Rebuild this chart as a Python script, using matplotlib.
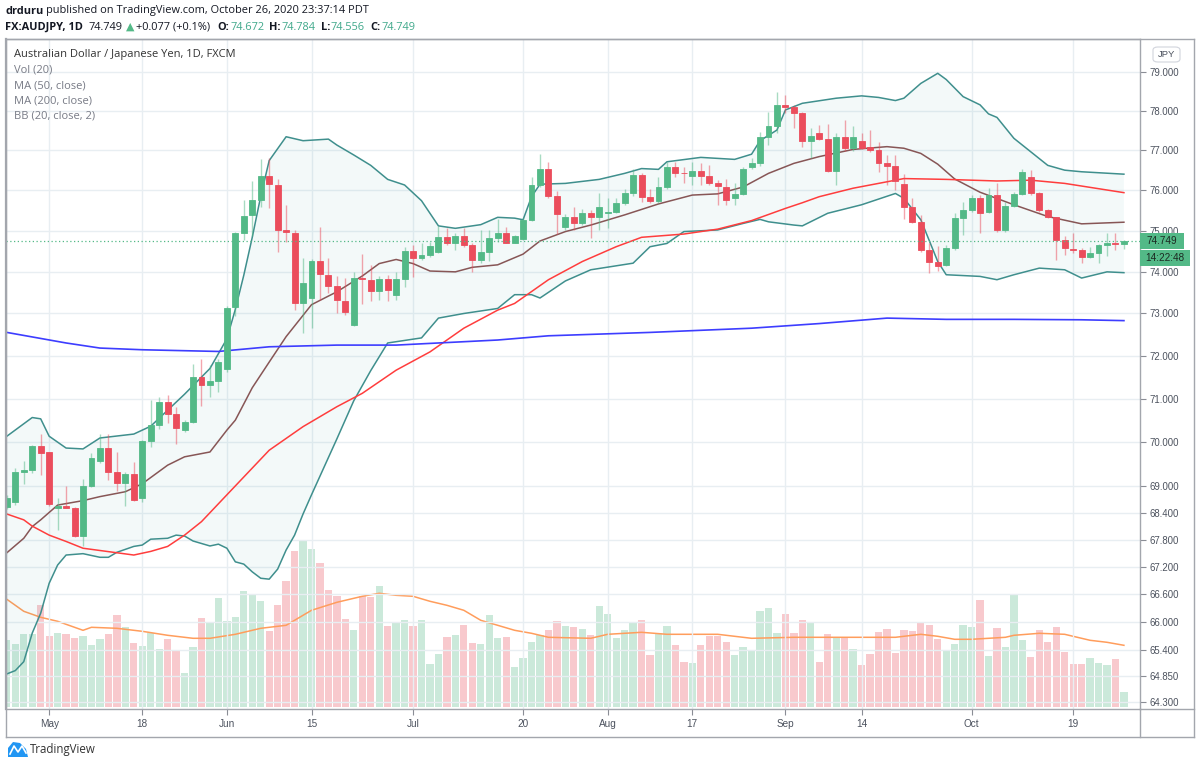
import numpy as np
import pandas as pd
import matplotlib
matplotlib.use("Agg")
import matplotlib.pyplot as plt
from matplotlib.lines import Line2D
from matplotlib.patches import Rectangle, FancyBboxPatch, Polygon
from matplotlib.ticker import FixedLocator, NullLocator, FuncFormatter

# ─── data ────────────────────────────────────────────────────────────────
dates = pd.bdate_range("2020-04-24", "2020-10-27")

opens = [68.53, 68.63, 69.32, 69.36, 69.90, 69.76, 68.50, 68.55, 68.51, 67.88,
         69.00, 69.57, 69.86, 69.32, 69.07, 69.27, 68.72, 70.02, 70.39, 70.92,
         70.64, 70.27, 70.46, 71.51, 71.31, 71.41, 71.68, 73.15, 74.94, 75.38,
         75.76, 76.36, 76.13, 75.02, 74.95, 73.26, 73.37, 74.27, 73.93, 73.66,
         73.31, 72.73, 73.86, 73.81, 73.55, 73.83, 73.45, 73.83, 74.51, 74.33,
         74.40, 74.48, 74.84, 74.71, 74.87, 74.65, 74.29, 74.47, 74.82, 74.95,
         74.71, 74.79, 75.27, 76.13, 76.52, 75.86, 75.09, 75.33, 75.18, 75.43,
         75.35, 75.43, 75.47, 75.69, 75.94, 76.38, 75.84, 75.74, 76.07, 76.57,
         76.44, 76.36, 76.48, 76.36, 76.17, 76.08, 75.80, 75.91, 76.57, 76.67,
         77.34, 77.60, 78.15, 78.09, 77.93, 77.24, 77.44, 77.28, 76.49, 77.33,
         77.05, 77.22, 77.07, 77.00, 76.67, 76.61, 76.16, 75.59, 75.22, 74.52,
         74.25, 74.17, 74.57, 75.31, 75.51, 75.80, 75.47, 75.88, 75.02, 75.61,
         75.91, 76.34, 75.92, 75.51, 75.33, 74.78, 74.55, 74.52, 74.36, 74.45,
         74.65, 74.71, 74.672]
highs = [68.80, 69.41, 69.56, 69.92, 70.18, 69.78, 68.73, 69.00, 68.53, 69.16,
         69.74, 70.18, 70.18, 69.77, 69.32, 69.55, 70.05, 70.96, 71.04, 71.08,
         70.81, 70.50, 71.80, 71.93, 71.78, 71.92, 73.18, 74.98, 75.77, 76.23,
         76.77, 76.80, 76.27, 75.63, 75.02, 74.33, 74.30, 75.10, 74.33, 73.90,
         73.85, 74.00, 74.44, 74.17, 73.90, 73.93, 74.00, 74.61, 74.65, 74.71,
         74.73, 75.12, 75.06, 74.94, 75.06, 74.69, 75.02, 75.02, 75.28, 75.10,
         74.90, 75.31, 76.34, 76.90, 76.71, 75.98, 75.41, 75.59, 75.53, 75.51,
         75.94, 75.80, 75.80, 76.02, 76.52, 76.42, 76.02, 76.34, 76.71, 76.71,
         76.57, 76.71, 76.69, 76.62, 76.25, 76.29, 76.17, 76.57, 76.80, 77.47,
         77.97, 78.49, 78.40, 78.15, 77.97, 77.55, 77.63, 77.66, 77.44, 77.77,
         77.60, 77.43, 77.51, 77.21, 76.88, 76.88, 76.40, 75.80, 75.39, 74.70,
         74.63, 74.65, 75.43, 75.72, 75.88, 75.88, 76.05, 76.17, 75.72, 75.96,
         76.54, 76.51, 75.96, 75.53, 75.35, 74.86, 74.95, 74.57, 74.61, 74.67,
         74.95, 74.95, 74.784]
lows = [68.48, 68.57, 69.05, 69.29, 69.25, 68.55, 68.01, 68.50, 67.85, 67.65,
        68.98, 69.52, 69.14, 68.89, 68.55, 68.66, 68.65, 69.89, 70.29, 70.43,
        69.95, 70.22, 70.43, 70.82, 71.04, 71.14, 71.62, 72.94, 74.78, 74.87,
        75.59, 75.55, 74.49, 74.73, 73.08, 72.53, 72.65, 73.33, 73.49, 73.00,
        72.96, 72.70, 73.23, 73.31, 73.33, 73.31, 73.33, 73.63, 73.88, 74.29,
        74.36, 74.45, 74.65, 74.53, 74.61, 74.00, 74.21, 74.27, 74.73, 74.69,
        74.69, 74.78, 75.23, 76.09, 75.80, 74.92, 75.02, 75.02, 75.14, 74.82,
        75.02, 75.06, 75.43, 75.63, 75.86, 75.72, 75.69, 75.69, 76.02, 76.32,
        76.17, 76.13, 76.13, 76.13, 75.64, 75.64, 75.64, 75.88, 76.54, 76.61,
        77.13, 77.43, 77.93, 77.55, 77.09, 76.80, 77.26, 76.46, 76.13, 76.99,
        76.99, 77.02, 76.96, 76.46, 76.13, 76.00, 75.28, 75.18, 74.49, 73.98,
        74.03, 74.13, 74.53, 74.90, 75.47, 74.94, 75.43, 74.98, 74.98, 75.59,
        75.88, 75.88, 75.47, 75.31, 74.29, 74.41, 74.45, 74.21, 74.33, 74.21,
        74.38, 74.53, 74.556]
closes = [68.73, 69.32, 69.36, 69.90, 69.75, 68.60, 68.55, 68.51, 67.88, 69.00,
          69.64, 69.86, 69.32, 69.07, 69.27, 68.69, 70.02, 70.39, 70.92, 70.64,
          70.32, 70.46, 71.51, 71.31, 71.41, 71.86, 73.13, 74.94, 75.36, 75.76,
          76.36, 76.16, 75.02, 74.98, 73.26, 73.74, 74.27, 73.95, 73.66, 73.32,
          73.04, 73.86, 73.82, 73.55, 73.83, 73.57, 73.83, 74.51, 74.33, 74.40,
          74.63, 74.84, 74.71, 74.87, 74.65, 74.29, 74.47, 74.82, 74.95, 74.71,
          74.86, 75.27, 76.13, 76.52, 75.86, 75.41, 75.33, 75.18, 75.43, 75.35,
          75.58, 75.47, 75.69, 75.94, 76.38, 75.84, 75.74, 76.07, 76.57, 76.44,
          76.42, 76.48, 76.36, 76.17, 76.10, 75.76, 75.91, 76.54, 76.67, 77.34,
          77.61, 78.15, 78.10, 77.93, 77.24, 77.36, 77.28, 76.49, 77.33, 77.05,
          77.33, 77.05, 77.00, 76.67, 76.61, 76.24, 75.59, 75.22, 74.52, 74.25,
          74.15, 74.57, 75.31, 75.51, 75.80, 75.43, 75.88, 75.02, 75.61, 75.91,
          76.46, 75.92, 75.51, 75.33, 74.78, 74.57, 74.52, 74.36, 74.45, 74.65,
          74.71, 74.68, 74.749]
volume = [67, 63, 73, 73, 102, 71, 74, 73, 69, 71, 62, 68, 73, 92, 80, 64, 61,
          74, 58, 68, 56, 34, 60, 89, 85, 109, 86, 90, 116, 113, 106, 76, 102,
          126, 156, 166, 158, 144, 117, 111, 88, 77, 111, 110, 121, 81, 85, 87,
          81, 87, 43, 53, 70, 72, 82, 64, 63, 92, 69, 70, 40, 49, 65, 72, 77,
          86, 81, 80, 78, 72, 101, 93, 69, 77, 85, 87, 52, 74, 81, 62, 45, 44,
          62, 71, 71, 65, 52, 60, 56, 96, 99, 74, 93, 74, 87, 84, 45, 73, 70,
          70, 58, 42, 53, 75, 78, 54, 77, 76, 84, 82, 68, 57, 63, 82, 80, 107,
          51, 79, 60, 112, 67, 50, 77, 65, 80, 55, 43, 43, 49, 44, 42, 48, 15]

# indicator lines, read at selected bars: (bar number, value)
bb_upper_bar = [0, 3, 4, 5, 7, 9, 11, 15, 17, 21, 24, 26, 27, 28, 29, 30, 31, 33,
                35, 38, 39, 41, 43, 45, 47, 49, 51, 53, 56, 58, 60, 61, 62, 63,
                66, 70, 73, 75, 77, 78, 82, 86, 88, 89, 91, 92, 94, 98, 101, 103,
                105, 106, 108, 110, 111, 113, 115, 116, 117, 119, 123, 125, 127, 132]
bb_upper = [70.13, 70.56, 70.53, 70.13, 69.86, 69.84, 70.09, 70.18, 70.36, 71.10,
            71.70, 72.40, 73.10, 73.92, 74.84, 75.85, 76.74, 77.34, 77.24, 77.28,
            77.13, 76.88, 76.62, 76.27, 76.13, 75.74, 75.12, 75.06, 75.15, 75.33,
            75.31, 75.27, 75.84, 76.15, 76.17, 76.27, 76.42, 76.54, 76.52, 76.71,
            76.82, 76.77, 76.90, 77.24, 77.51, 78.02, 78.19, 78.32, 78.38, 78.34,
            78.26, 78.32, 78.70, 78.96, 78.80, 78.36, 78.15, 77.92, 77.83, 77.30,
            76.62, 76.50, 76.46, 76.40]
bb_mid_bar = [0, 2, 3, 4, 6, 9, 11, 14, 16, 19, 21, 24, 26, 27, 29, 31, 33, 36,
              39, 42, 44, 46, 48, 50, 53, 55, 58, 61, 63, 66, 69, 73, 77, 81, 84,
              87, 90, 93, 96, 100, 104, 106, 108, 110, 112, 115, 119, 123, 127, 132]
bb_mid = [67.51, 67.83, 68.09, 68.24, 68.57, 68.67, 68.76, 68.87, 69.05, 69.47,
          69.66, 69.77, 70.27, 70.50, 71.25, 71.85, 72.45, 73.21, 73.52, 73.90,
          74.20, 74.30, 74.20, 74.02, 74.00, 74.11, 74.17, 74.43, 74.75, 74.98,
          75.14, 75.39, 75.66, 75.88, 75.91, 76.08, 76.42, 76.67, 76.84, 77.02,
          77.09, 77.05, 76.92, 76.65, 76.28, 75.95, 75.64, 75.35, 75.17, 75.21]
bb_lower_bar = [0, 1, 2, 3, 4, 5, 6, 7, 9, 11, 12, 13, 15, 16, 17, 19, 20, 21, 22,
                24, 25, 26, 27, 28, 29, 30, 31, 32, 33, 34, 35, 36, 39, 41, 43, 45,
                47, 49, 51, 54, 58, 60, 62, 63, 66, 69, 74, 76, 78, 80, 84, 87, 89,
                90, 93, 94, 97, 101, 105, 106, 108, 110, 111, 115, 117, 119, 122,
                125, 127, 130, 132]
bb_lower = [64.89, 64.96, 65.15, 65.76, 66.19, 66.84, 67.24, 67.46, 67.49, 67.41,
            67.41, 67.52, 67.65, 67.68, 67.81, 67.83, 67.90, 67.88, 67.77, 67.66,
            67.70, 67.61, 67.31, 67.26, 67.09, 66.95, 66.93, 67.15, 67.57, 67.90,
            68.37, 68.80, 70.07, 70.95, 71.65, 72.30, 72.36, 72.42, 72.89, 73.00,
            73.12, 73.45, 73.45, 73.37, 73.78, 74.05, 74.21, 74.61, 74.69, 74.98,
            75.02, 75.18, 75.28, 75.22, 75.14, 75.12, 75.43, 75.64, 75.92, 75.80,
            75.27, 74.25, 73.93, 73.89, 73.81, 73.93, 74.09, 74.05, 73.85, 74.00,
            73.98]
ma50_bar = [0, 2, 3, 5, 7, 9, 11, 13, 15, 17, 19, 21, 23, 26, 31, 35, 39, 42, 46,
            50, 54, 58, 60, 64, 68, 72, 75, 80, 84, 88, 92, 94, 96, 100, 104, 106,
            111, 117, 121, 125, 132]
ma50 = [68.37, 68.24, 68.10, 67.90, 67.76, 67.61, 67.56, 67.51, 67.46, 67.54,
        67.65, 67.90, 68.20, 68.80, 69.81, 70.35, 70.81, 71.12, 71.66, 72.09,
        72.65, 73.08, 73.24, 73.81, 74.25, 74.61, 74.84, 74.92, 75.04, 75.25,
        75.55, 75.69, 75.84, 76.05, 76.21, 76.29, 76.27, 76.23, 76.25, 76.17,
        75.94]
ma200_bar = [0, 7, 11, 16, 25, 31, 39, 46, 52, 58, 64, 76, 88, 96, 104, 111, 119,
             127, 132]
ma200 = [72.55, 72.30, 72.18, 72.14, 72.10, 72.21, 72.25, 72.25, 72.31, 72.37,
         72.47, 72.55, 72.65, 72.76, 72.89, 72.86, 72.86, 72.85, 72.83]
vol_ma_bar = [0, 2, 4, 6, 9, 10, 13, 16, 19, 22, 24, 27, 30, 33, 34, 36, 39, 42,
              44, 46, 48, 50, 52, 54, 56, 58, 60, 62, 64, 69, 71, 75, 78, 84, 88,
              93, 99, 105, 108, 110, 112, 114, 118, 119, 122, 125, 128, 130, 132]
vol_ma = [108, 96, 90, 86, 77, 80, 79, 76, 72, 69, 69, 73, 79, 82, 87, 97, 105,
          111, 114, 112, 111, 106, 102, 97, 87, 82, 77, 74, 70, 69, 73, 75, 73,
          73, 69, 70, 70, 70, 73, 71, 68, 68, 70, 72, 74, 73, 67, 65, 62]

price_ticks = [64.3, 64.85, 65.4, 66.0, 66.6, 67.2, 67.8, 68.4, 69, 70, 71, 72,
               73, 74, 75, 76, 77, 78, 79]
tick_dates = ["2020-05-01", "2020-05-18", "2020-06-01", "2020-06-15", "2020-07-01",
              "2020-07-20", "2020-08-03", "2020-08-17", "2020-09-01", "2020-09-14",
              "2020-10-01", "2020-10-19"]
tick_labels = ["May", "18", "Jun", "15", "Jul", "20", "Aug", "17", "Sep", "14",
               "Oct", "19"]
last_price = 74.749

# ─── colours ─────────────────────────────────────────────────────────────
UP, DOWN = "#53b987", "#eb4d5c"
GRID = "#e8eef2"
FRAME = "#a3a6ad"
TXT = "#4c525e"
INK = "#131722"
VAL = "#3fa88a"

W, H = 1200, 766
fig = plt.figure(figsize=(W / 100, H / 100), dpi=100)
renderer = fig.canvas.get_renderer()


def fx(x):
    return x / W


def fy(y):
    return 1 - y / H


rect = [fx(6), fy(709), (1140 - 6) / W, (709 - 39) / H]
ax_vol = fig.add_axes(rect)
ax = fig.add_axes(rect, facecolor="none")

n = len(dates)
x = np.arange(n)
o, h, l, c = map(np.array, (opens, highs, lows, closes))
up = c >= o
xmin, xmax = -0.1, 133.9

# volume pane (behind the price pane)
vol_cols = [(0.325, 0.725, 0.53, 0.30) if u else (0.92, 0.30, 0.36, 0.30) for u in up]
ax_vol.bar(x, volume, width=0.86, color=vol_cols, linewidth=0)
ax_vol.plot(vol_ma_bar, vol_ma, color="#ff9d5c", lw=1.1)
ax_vol.set_xlim(xmin, xmax)
ax_vol.set_ylim(-1.7, 668.3)
ax_vol.axis("off")

# price pane
ax.set_yscale("log")
ax.set_xlim(xmin, xmax)
ax.set_ylim(64.15, 79.85)

ax.fill(np.r_[bb_upper_bar, bb_lower_bar[::-1]], np.r_[bb_upper, bb_lower[::-1]],
        color="#2a9d9d", alpha=0.055, lw=0, zorder=1)
ax.plot(bb_upper_bar, bb_upper, color="#3f8f8d", lw=1.1, zorder=2)
ax.plot(bb_lower_bar, bb_lower, color="#3f8f8d", lw=1.1, zorder=2)
ax.plot(bb_mid_bar, bb_mid, color="#875656", lw=1.1, zorder=2)
ax.plot(ma50_bar, ma50, color="#ff3d3d", lw=1.1, zorder=2)
ax.plot(ma200_bar, ma200, color="#3d3dff", lw=1.2, zorder=2)

cols = np.where(up, UP, DOWN)
ax.vlines(x, l, h, colors=cols, lw=1.0, alpha=0.5, zorder=3)
ax.bar(x, np.abs(c - o), bottom=np.minimum(o, c), width=0.7, color=cols,
       edgecolor=cols, linewidth=0.6, zorder=4)

ax.axhline(last_price, color=UP, lw=0.9, ls=(0, (1, 2)), zorder=5)

# axes, ticks and grid
ax.yaxis.tick_right()
ax.yaxis.set_major_locator(FixedLocator(price_ticks))
ax.yaxis.set_minor_locator(NullLocator())
ax.yaxis.set_major_formatter(FuncFormatter(lambda v, p: f"{v:.3f}"))
tick_pos = [dates.get_loc(pd.Timestamp(d)) for d in tick_dates]
ax.set_xticks(tick_pos)
ax.set_xticklabels(tick_labels)
ax.tick_params(axis="y", length=4, width=0.8, color="#8a8d95", labelsize=6.9,
               labelcolor=TXT, pad=3)
ax.tick_params(axis="x", length=4, width=0.8, color="#8a8d95", labelsize=7.2,
               labelcolor=TXT, pad=3)
for lab in ax.get_xticklabels() + ax.get_yticklabels():
    lab.set_fontfamily("Liberation Sans")
ax.grid(True, color=GRID, lw=1.0, zorder=0)
ax.set_axisbelow(True)
for s in ax.spines.values():
    s.set_color(FRAME)
    s.set_linewidth(1.0)
ax.spines["left"].set_linewidth(1.6)

# outer frame of the chart widget
for (x0, y0, x1, y1) in [(6, 38.5, 1194, 38.5), (1194, 38.5, 1194, 737),
                         (6, 737, 1194, 737), (6, 38.5, 6, 737), (1140, 709, 1140, 737),
                         (1140, 709, 1194, 709)]:
    fig.add_artist(Line2D([fx(x0), fx(x1)], [fy(y0), fy(y1)], color=FRAME, lw=1.0))

# last price and countdown labels on the scale
y_last = H - ax.transData.transform((0, last_price))[1]
fig.add_artist(Rectangle((fx(1140), fy(y_last + 8)), (1184 - 1140) / W, 16 / H,
                         color=UP, lw=0, zorder=10))
fig.add_artist(Rectangle((fx(1140), fy(y_last + 24.5)), (1190 - 1140) / W, 16 / H,
                         color=UP, lw=0, zorder=10))
fig.text(fx(1162), fy(y_last), f"{last_price:.3f}", color="#1c2a22", fontsize=7.2,
         ha="center", va="center", family="Liberation Sans", zorder=11)
fig.text(fx(1165), fy(y_last + 16.5), "14:22:48", color="#1c2a22", fontsize=7.2,
         ha="center", va="center", family="Liberation Sans", zorder=11)

fig.add_artist(FancyBboxPatch((fx(1153), fy(62)), 27 / W, 15 / H,
                              boxstyle="round,pad=0,rounding_size=0.004",
                              fc="white", ec="#d1d4dc", lw=0.8))
fig.text(fx(1166.5), fy(54.5), "JPY", color=TXT, fontsize=6.8, ha="center",
         va="center", family="Liberation Sans")

# header lines, laid out piece by piece so the widths add up
HF = "Open Sans"


def header_line(y, pieces, x0, x_end, size):
    def place(sz):
        made, xp = [], x0
        for s, col, wt, fam, gap in pieces:
            t = fig.text(fx(xp), fy(y), s, fontsize=sz, color=col, weight=wt,
                         family=fam, va="center")
            xp += t.get_window_extent(renderer).width + gap * sz / 8.0
            made.append(t)
        return made, xp
    made, xp = place(size)
    for t in made:
        t.remove()
    place(size * (x_end - x0) / (xp - x0))


header_line(11, [("drduru", INK, "bold", HF, 3),
                 ("published on TradingView.com, October 26, 2020 23:37:14 PDT",
                  INK, "normal", HF, 0)], 5, 370, 8.0)
header_line(27, [("FX:AUDJPY, 1D", INK, "bold", HF, 6),
                 ("74.749", INK, "normal", HF, 3),
                 ("\u25B2", UP, "normal", "DejaVu Sans", 2),
                 ("+0.077 (+0.1%)", INK, "normal", HF, 7),
                 ("O:", INK, "bold", HF, 1), ("74.672", VAL, "normal", HF, 5),
                 ("H:", INK, "bold", HF, 1), ("74.784", VAL, "normal", HF, 5),
                 ("L:", INK, "bold", HF, 1), ("74.556", VAL, "normal", HF, 5),
                 ("C:", INK, "bold", HF, 1), ("74.749", VAL, "normal", HF, 0)],
            5, 418, 8.0)

# legend inside the pane
fig.text(fx(14), fy(55), "Australian Dollar / Japanese Yen, 1D, FXCM", fontsize=8,
         color="#333333", family=HF, va="center")
for yy, s in [(70.5, "Vol (20)"), (86, "MA (50, close)"), (101, "MA (200, close)"),
              (116.5, "BB (20, close, 2)")]:
    fig.text(fx(14), fy(yy), s, fontsize=8, color="#787b86", family=HF, va="center")

# footer logo
fig.add_artist(Polygon([(fx(8), fy(757)), (fx(8), fy(748)), (fx(13), fy(742)),
                        (fx(20), fy(743)), (fx(26), fy(749)), (fx(28), fy(757))],
                       closed=True, fc="#2196f3", ec="none"))
fig.add_artist(Line2D([fx(10), fx(14), fx(18), fx(22), fx(26)],
                      [fy(754), fy(746), fy(752), fy(746), fy(753)], color="white", lw=1.2))
fig.text(fx(30), fy(749), "TradingView", fontsize=8.3, color="#333333", family=HF,
         va="center")

fig.savefig("out.png", dpi=100)
print("Saved out.png")
